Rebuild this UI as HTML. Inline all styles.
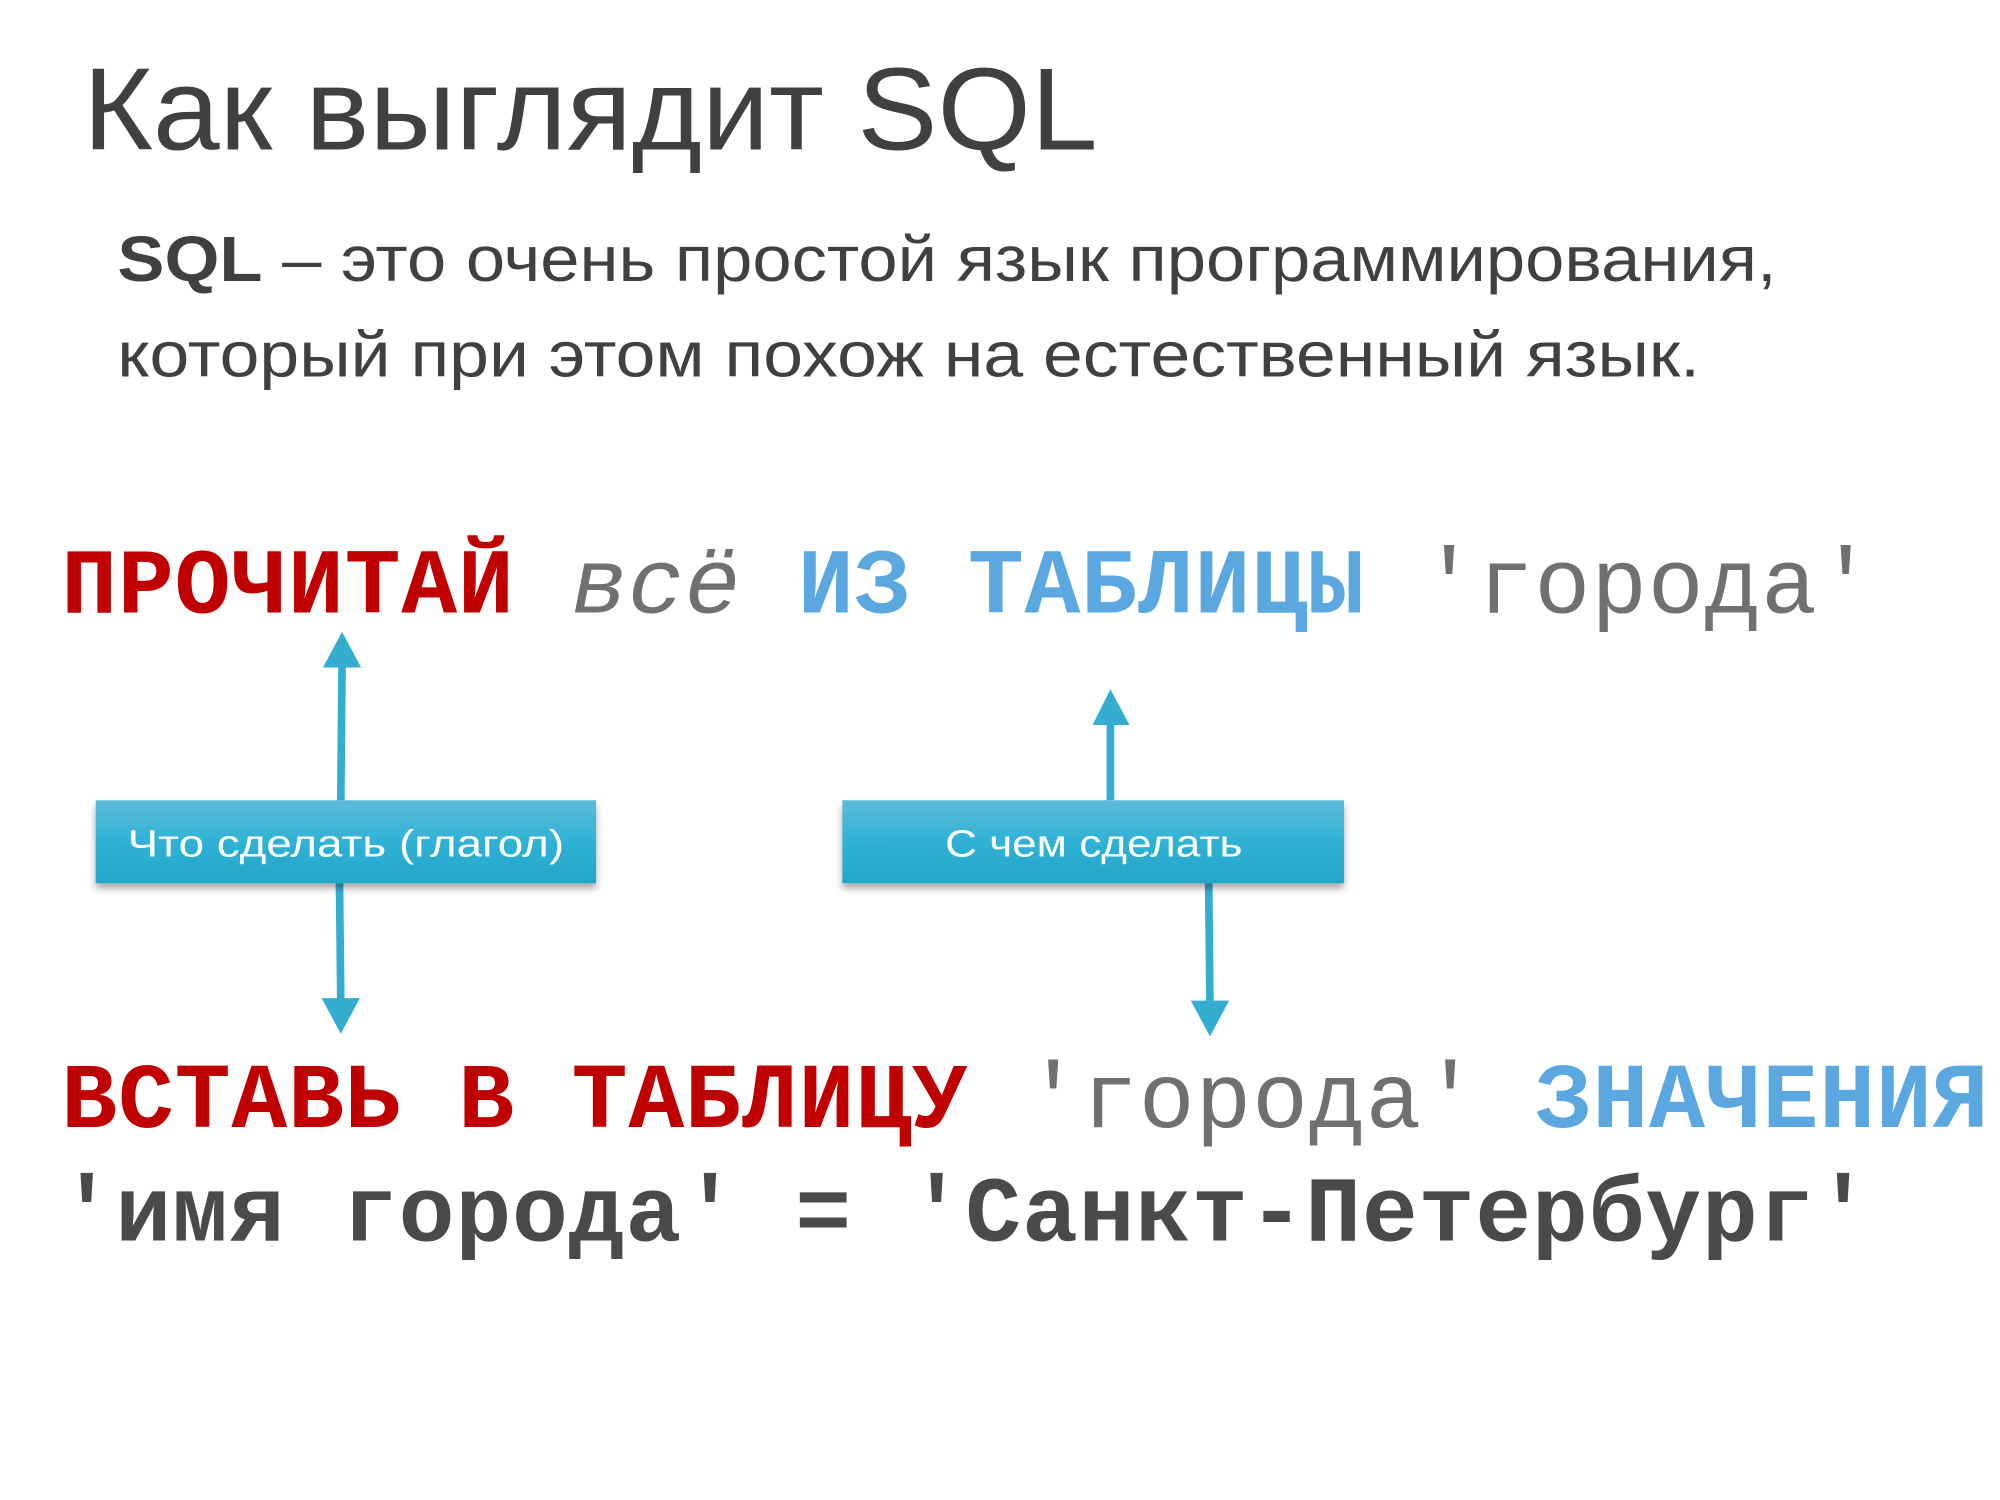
<!DOCTYPE html>
<html><head><meta charset="utf-8"><style>
html,body{margin:0;padding:0;background:#fff;}
svg{display:block;}
</style></head><body>
<svg width="2000" height="1500" viewBox="0 0 1567 1175.25" xmlns="http://www.w3.org/2000/svg">
<defs>
<linearGradient id="g" x1="0" y1="0" x2="0" y2="1">
<stop offset="0" stop-color="#5dbbd9"/><stop offset="0.5" stop-color="#2fb2d6"/><stop offset="1" stop-color="#22a5c8"/>
</linearGradient>
<filter id="sh" x="-5%" y="-10%" width="110%" height="130%"><feDropShadow dx="0" dy="4" stdDeviation="3" flood-color="#000" flood-opacity="0.35"/></filter>
</defs>
<rect width="1567" height="1176" fill="#fff"/>
<g font-family="'Liberation Sans', 'DejaVu Sans', sans-serif" fill="#404040">
<text x="65" y="117" font-size="92" textLength="795" lengthAdjust="spacingAndGlyphs">Как выглядит SQL</text>
<text x="92" y="220" font-size="50" textLength="1300" lengthAdjust="spacingAndGlyphs"><tspan font-weight="bold">SQL</tspan> – это очень простой язык программирования,</text>
<text x="92" y="295" font-size="50" textLength="1240" lengthAdjust="spacingAndGlyphs">который при этом похож на естественный язык.</text>
</g>
<g font-family="'Liberation Mono', 'Courier New', monospace" font-size="73" xml:space="preserve">
<text x="48" y="480" textLength="1420" lengthAdjust="spacing"><tspan fill="#c00000" font-weight="bold">ПРОЧИТАЙ</tspan> <tspan fill="#707070" font-style="italic">всё</tspan> <tspan fill="#5ba7e0" font-weight="bold">ИЗ ТАБЛИЦЫ</tspan> <tspan fill="#707070">'города'</tspan></text>
<text x="48" y="883" textLength="1510" lengthAdjust="spacing"><tspan fill="#c00000" font-weight="bold">ВСТАВЬ В ТАБЛИЦУ</tspan> <tspan fill="#707070">'города'</tspan> <tspan fill="#5ba7e0" font-weight="bold">ЗНАЧЕНИЯ</tspan></text>
<text x="46" y="972" fill="#4a4a4a" font-weight="bold" textLength="1420" lengthAdjust="spacing">'имя города' = 'Санкт-Петербург'</text>
</g>
<g stroke="#33aed0" stroke-width="6" fill="none">
<line x1="267" y1="627" x2="268" y2="520"/>
<line x1="266" y1="692" x2="267" y2="785"/>
<line x1="870" y1="627" x2="870" y2="565"/>
<line x1="947" y1="692" x2="948" y2="788"/>
</g>
<g fill="#33aed0">
<polygon points="268,495 253,523 283,523"/>
<polygon points="267,810 252,782 282,782"/>
<polygon points="870,540 856,568 885,568"/>
<polygon points="948,812 933,784 963,784"/>
</g>
<rect x="75" y="627" width="392" height="65" fill="url(#g)" filter="url(#sh)"/>
<rect x="660" y="627" width="393" height="65" fill="url(#g)" filter="url(#sh)"/>
<g font-family="'Liberation Sans', 'DejaVu Sans', sans-serif" font-size="30" fill="#fff" text-anchor="middle">
<text x="271" y="671" textLength="342" lengthAdjust="spacingAndGlyphs">Что сделать (глагол)</text>
<text x="857" y="671" textLength="233" lengthAdjust="spacingAndGlyphs">С чем сделать</text>
</g>
</svg>
</body></html>
